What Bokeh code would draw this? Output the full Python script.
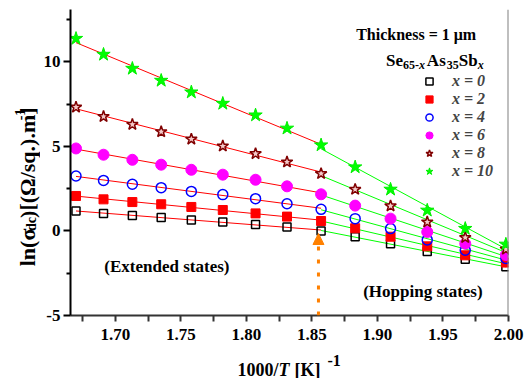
import numpy as np
from bokeh.plotting import figure
from bokeh.layouts import column, row
from bokeh.models import (Range1d, FixedTicker, PrintfTickFormatter, Label, Span,
                          Arrow, NormalHead, Legend, LegendItem, ColumnDataSource)
from bokeh.embed import file_html
from bokeh.resources import INLINE

# ---------------- data ----------------
inv_T = [1.670, 1.691, 1.713, 1.735, 1.758, 1.782, 1.807, 1.831, 1.857,
         1.883, 1.910, 1.938, 1.967, 1.998]
ln_sigma_x0 = [1.18, 1.04, 0.92, 0.79, 0.65, 0.53, 0.39, 0.24, 0.00,
               -0.34, -0.75, -1.22, -1.67, -2.11]
ln_sigma_x2 = [2.07, 1.87, 1.71, 1.58, 1.42, 1.24, 1.04, 0.85, 0.59,
               0.16, -0.34, -0.91, -1.44, -1.87]
ln_sigma_x4 = [3.25, 2.99, 2.76, 2.56, 2.34, 2.15, 1.91, 1.61, 1.28,
               0.73, 0.14, -0.53, -1.14, -1.63]
ln_sigma_x6 = [4.88, 4.51, 4.21, 3.92, 3.62, 3.33, 3.03, 2.64, 2.17,
               1.50, 0.73, -0.06, -0.75, -1.42]
ln_sigma_x8 = [7.32, 6.77, 6.30, 5.87, 5.43, 5.02, 4.57, 4.08, 3.39,
               2.46, 1.48, 0.53, -0.39, -1.08]
ln_sigma_x10 = [11.38, 10.44, 9.61, 8.90, 8.21, 7.54, 6.85, 6.07, 5.08,
                3.78, 2.46, 1.22, 0.14, -0.79]
sb_content = [0, 2, 4, 6, 8, 10]
split_index = 8          # extended (red fit) -> hopping (green fit)
arrow_x = 1.855
x_ticks = [1.70, 1.75, 1.80, 1.85, 1.90, 1.95, 2.00]
x_minor_ticks = [1.675, 1.725, 1.775, 1.825, 1.875, 1.925, 1.975]
y_ticks = [-5, 0, 5, 10]
y_minor_ticks = [-2.5, 2.5, 7.5, 12.5]

series = [ln_sigma_x0, ln_sigma_x2, ln_sigma_x4, ln_sigma_x6, ln_sigma_x8, ln_sigma_x10]

# ---------------- layout ----------------
W, H = 525, 378
YT_W = 40            # width of the y-title strip
XT_H = 30            # height of the x-title strip
MW, MH = W - YT_W, H - XT_H
X0, X1, Y0, Y1 = 1.6658, 2.0, -5.0, 13.1
FL, FR, FT, FB = 68, 508, 9, 315      # frame edges in page pixels

def dx(px):
    return X0 + (px - FL) * (X1 - X0) / (FR - FL)

def dy(py):
    return Y0 + (FB - py) * (Y1 - Y0) / (FB - FT)

FONT = "Liberation Serif"
ORANGE = "#ff8000"

p = figure(width=MW, height=MH, output_backend="svg", toolbar_location=None,
           title=None,
           x_range=Range1d(X0, X1), y_range=Range1d(Y0, Y1),
           min_border_left=FL - YT_W, min_border_right=W - FR,
           min_border_top=FT, min_border_bottom=MH - FB)
p.outline_line_color = None
p.grid.visible = False
p.background_fill_color = "white"
p.border_fill_color = "white"

for ax, ticks, minor, fmt, col in ((p.xaxis, x_ticks, x_minor_ticks, "%.2f", "#333333"),
                                   (p.yaxis, y_ticks, y_minor_ticks, "%d", "black")):
    ax.ticker = FixedTicker(ticks=ticks, minor_ticks=minor)
    ax.formatter = PrintfTickFormatter(format=fmt)
    ax.axis_line_width = 2
    ax.axis_line_color = col
    ax.major_tick_line_width = 2
    ax.minor_tick_line_width = 2
    ax.major_tick_line_color = col
    ax.minor_tick_line_color = col
    ax.major_tick_in = 0
    ax.minor_tick_in = 0
    ax.major_label_text_font = FONT
    ax.major_label_text_font_style = "bold"
    ax.major_label_text_font_size = "17px"
    ax.major_label_text_color = "black"
p.xaxis.major_tick_out = 6
p.xaxis.minor_tick_out = 6
p.yaxis.major_tick_out = 7
p.yaxis.minor_tick_out = 4
p.xaxis.major_label_standoff = 7
p.yaxis.major_label_standoff = 3

# right frame line
p.add_layout(Span(location=X1, dimension="height", line_color="#808080", line_width=2))

# ---------------- fit lines ----------------
xa = np.array(inv_T)
for ys in series:
    ya = np.array(ys)
    for lo, hi, col in ((0, split_index + 1, "#ff0000"), (split_index, len(xa), "#00ff00")):
        k, b = np.polyfit(xa[lo:hi], ya[lo:hi], 1)
        xs = [xa[lo], xa[hi - 1]]
        p.line(xs, [k * v + b for v in xs], line_color=col, line_width=1)

# ---------------- markers ----------------
styles = [
    dict(marker="square", size=8, line_color="black", fill_alpha=0, line_width=1.5),
    dict(marker="square", size=9, line_color="#ff0000", fill_color="#ff0000"),
    dict(marker="circle", size=10, line_color="#0000ff", fill_alpha=0, line_width=1.5),
    dict(marker="circle", size=11, line_color="#ff00ff", fill_color="#ff00ff"),
    dict(marker="star", size=12, line_color="#800000", fill_color="#f4c8c8", line_width=1.5),
    dict(marker="star", size=14, line_color="#00ee00", fill_color="#00ff00"),
]
items = []
for ys, st, sb in zip(series, styles, sb_content):
    r = p.scatter(inv_T, ys, **st)
    items.append(LegendItem(label=f"x = {sb}", renderers=[r]))

legend = Legend(items=items, location=(349, 135), border_line_color=None,
                background_fill_alpha=0, padding=0, spacing=0, margin=0,
                label_text_font=FONT, label_text_font_style="bold italic",
                label_text_font_size="16px", glyph_width=20, glyph_height=18,
                label_height=18, label_standoff=13)
p.add_layout(legend)

# ---------------- texts inside the plot ----------------
def lab(fig, x, y, text, size="16px", style="bold", baseline="alphabetic"):
    fig.add_layout(Label(x=x, y=y, text=text, text_font=FONT,
                         text_font_style=style, text_font_size=size, text_align="left",
                         text_baseline=baseline, text_color="black"))

def plab(px, py, text, **kw):
    lab(p, dx(px), dy(py), text, **kw)

plab(355, 33.5, "Thickness = 1 μm", size="16px")
plab(385, 60, "Se", size="17px")
plab(402, 64, "65-", size="12px")
plab(418, 64, "x", size="12px", style="bold italic")
plab(426, 60, "As", size="17px")
plab(446, 64, "35", size="12px")
plab(458, 60, "Sb", size="17px")
plab(477, 64, "x", size="12px", style="bold italic")

plab(102, 265.5, "(Extended states)", size="17px", baseline="middle")
plab(362, 290.5, "(Hopping states)", size="17px", baseline="middle")

# ---------------- arrow ----------------
p.add_layout(Arrow(end=NormalHead(size=11, fill_color=ORANGE, line_color=ORANGE),
                   x_start=arrow_x, y_start=Y0, x_end=arrow_x, y_end=dy(233),
                   line_color=ORANGE, line_width=3, line_dash="4 9"))

# ---------------- title strips ----------------
def strip(w, h):
    f = figure(width=w, height=h, output_backend="svg", toolbar_location=None,
               title=None,
               x_range=Range1d(0, w), y_range=Range1d(0, h),
               x_axis_type=None, y_axis_type=None,
               min_border=0, min_border_left=0, min_border_right=0,
               min_border_top=0, min_border_bottom=0)
    f.outline_line_color = None
    f.grid.visible = False
    f.background_fill_color = "white"
    f.border_fill_color = "white"
    return f

# y title strip (page x 0..40, y 0..348): ln(σ_dc)[(Ω/sq.).m]^-1
ys_ = strip(YT_W, MH)
ysrc = ColumnDataSource(dict(
    x=[27, 31, 27, 19],
    y=[MH - 292, MH - 252, MH - 237, MH - 126],
    t=["ln(σ", "dc", ")[(Ω/sq.).m]", "-1"],
    s=["22px", "14px", "22px", "14px"],
))
ys_.text(x="x", y="y", text="t", text_font_size="s", source=ysrc, angle=np.pi / 2,
         text_font={"value": FONT}, text_font_style="bold", text_align="left",
         text_baseline="alphabetic", text_color="black")

# x title strip (page x 0..525, y 348..378): 1000/T [K]^-1
xs_ = strip(W, XT_H)
xsrc = ColumnDataSource(dict(
    x=[237, 278, 294, 327],
    y=[H - 369, H - 369, H - 369, H - 360],
    t=["1000/", "T", "[K]", "-1"],
    s=["18px", "18px", "18px", "16px"],
    st=["bold", "bold italic", "bold", "bold"],
))
xs_.text(x="x", y="y", text="t", text_font_size="s", text_font_style="st", source=xsrc,
         text_font={"value": FONT}, text_align="left", text_baseline="alphabetic",
         text_color="black")

layout = column(row(ys_, p, spacing=0), xs_, spacing=0)
open("out.html", "w").write(file_html(layout, INLINE))
